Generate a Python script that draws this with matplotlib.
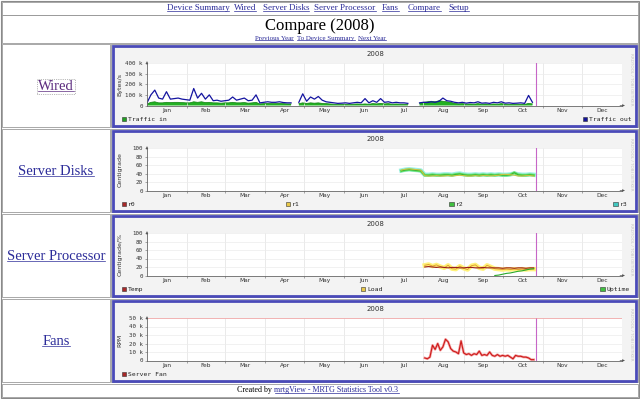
import numpy as np
import matplotlib.pyplot as plt
from matplotlib.patches import Rectangle
from matplotlib.lines import Line2D

# calendar 2008
month_names = ['Jan', 'Feb', 'Mar', 'Apr', 'May', 'Jun',
               'Jul', 'Aug', 'Sep', 'Oct', 'Nov', 'Dec']
month_len = [31, 29, 31, 30, 31, 30, 31, 31, 30, 31, 30, 31]
now_day = 300  # "now" marker, late October

nav_items = ['Device Summary', 'Wired', 'Server Disks', 'Server Processor',
             'Fans', 'Compare', 'Setup']
sub_links = ['Previous Year', 'To Device Summary', 'Next Year']
row_names = ['Wired', 'Server Disks', 'Server Processor', 'Fans']

# Wired: one sample every 3 days from Jan 1, kBytes/s
wired_start, wired_step = 0, 3
traffic_in = [15, 30, 35, 25, 25, 30, 28, 30, 30, 28,
              25, 25, 35, 30, 35, 28, 30, 25, 25, 22,
              25, 25, 30, 25, 25, 28, 22, 25, 30, 15,
              18, 20, 18, 18, 20, 18, 15, 15, np.nan, 18,
              25, 20, 25, 22, 25, 20, 18, 15, 12, 10,
              12, 12, 10, 12, 15, 12, 15, 12, 18, 15,
              20, 15, 18, 12, 15, 12, 12, 10, np.nan, np.nan,
              20, 30, 35, 40, 35, 45, 40, 35, 30, 20,
              15, 18, 12, 15, 12, 18, 12, 15, 10, 15,
              12, 18, 12, 12, 10, 12, 12, 10, 20, 15]
traffic_out = [25, 100, 145, 70, 60, 130, 60, 65, 70, 60,
               55, 50, 160, 70, 115, 60, 100, 45, 50, 40,
               45, 50, 80, 50, 60, 70, 45, 50, 100, 25,
               30, 35, 30, 30, 35, 28, 25, 25, np.nan, 30,
               110, 40, 80, 60, 85, 50, 35, 30, 25, 20,
               22, 25, 20, 25, 30, 25, 65, 25, 45, 30,
               65, 30, 35, 25, 30, 25, 25, 20, np.nan, np.nan,
               25, 30, 28, 35, 30, 40, 70, 45, 40, 30,
               25, 30, 22, 28, 25, 35, 22, 25, 20, 30,
               25, 35, 22, 25, 20, 22, 25, 20, 95, 30]

# Server Disks: every 3 days from day 196, Centigrade
disk_start, disk_step = 196, 3
disk_r1 = [48, 50, 51, 50, 49, 48,
           35, 34, 34, 35, 34, 34, 35, 34, 35, 36,
           35, 34, 34, 35, 34, 35, 35, 34, 35, 36,
           38, 38, 37, 36, 34, 34, 35, 35, 34]
disk_r2 = [46, 48, 49, 48, 47, 46,
           36, 36, 37, 36, 36, 37, 37, 36, 38, 39,
           37, 36, 36, 37, 36, 37, 36, 37, 36, 37,
           36, 36, 37, 42, 37, 36, 36, 37, 36]
disk_r3 = [47, 49, 50, 49, 48, 47,
           37, 37, 38, 37, 37, 38, 38, 37, 39, 40,
           38, 37, 37, 38, 37, 38, 37, 38, 37, 38,
           37, 37, 38, 40, 38, 37, 37, 38, 37]

# Server Processor: every 3 days from day 214
cpu_start, cpu_step = 214, 3
cpu_temp = [20, 21, 20, 19, 20, 19, 18, 19, 19, 18,
            18, 19, 19, 18, 18, 19, 18, 18, 18, 18,
            17, 18, 18, 17, 18, 18, 17, 18, 18]
cpu_load = [24, 26, 22, 25, 21, 18, 24, 16, 15, 22,
            17, 14, 23, 25, 18, 16, 24, 20, 16, 15,
            14, 15, 14, 15, 14, 15, 14, 15, 15]
cpu_uptime = [np.nan] * 18 + [0, 1, 3, 5, 6, 8, 10, 11, 13, 15, 16]

# Fans: every 2 days from day 214, k RPM
fan_start, fan_step = 214, 2
server_fan = [3, 2, 4, 18, 13, 20, 12, 16, 25, 22,
              14, 11, 10, 8, 23, 9, 7, 8, 6, 8,
              7, 11, 6, 7, 6, 10, 6, 5, 7, 5,
              6, 5, 6, 4, 2, 6, 5, 5, 4, 4,
              3, 1, 1]
fan_limit = 50

W, H = 640, 399
fig = plt.figure(figsize=(W / 100, H / 100), dpi=100)
fig.patch.set_facecolor('white')

SERIF = 'Liberation Serif'
LINK = '#2b2b99'


def fx(x):
    return x / W


def fy(y):
    return 1 - y / H


def box(x0, y0, x1, y1, z=-1, **kw):
    kw.setdefault('fill', 'fc' in kw)
    r = Rectangle((fx(x0), fy(y1)), (x1 - x0) / W, (y1 - y0) / H,
                  transform=fig.transFigure, zorder=z, **kw)
    fig.add_artist(r)
    return r


def txt(x, y, s, **kw):
    kw.setdefault('va', 'center')
    return fig.text(fx(x), fy(y), s, **kw)


links = []


def link(x, y, s, size, color=LINK, ha='center'):
    t = txt(x, y, s, fontsize=size, color=color, ha=ha, family=SERIF)
    links.append(t)
    return t


# page frame
box(1, 1, 639, 398, ec='#8a8a8a', lw=0.8)
box(2, 2, 638, 14.5, ec='#9a9a9a', lw=0.6)
box(2, 15, 638, 43, ec='#9a9a9a', lw=0.6)
box(2, 384, 638, 397, ec='#9a9a9a', lw=0.6)

nav_x = [198, 245, 286, 345, 390, 424, 459]
for x, s in zip(nav_x, nav_items):
    link(x, 8.3, s, 6.5)

txt(320, 26, 'Compare (2008)', fontsize=12, ha='center', family=SERIF)
for x, s in zip([274, 326, 372], sub_links):
    link(x, 38.3, s, 5.0)

txt(274, 390.5, 'Created by ', fontsize=5.8, ha='right', family=SERIF)
link(274.5, 390.5, 'mrtgView - MRTG Statistics Tool v0.3', 5.8, ha='left')

starts = np.cumsum([0] + month_len)[:12]
mids = starts + np.array(month_len) / 2


def chart(i, ylab, ymax, ystep, ylabels):
    T = 43 + 85 * i
    box(2, T + 1, 110, T + 84, ec='#9a9a9a', lw=0.6)
    box(111, T + 1, 638, T + 84, ec='#9a9a9a', lw=0.6)
    box(113, T + 3, 636, T + 83, fc='#f3f3f3', ec='#4a4ab8', lw=2)
    col = '#5b2a7e' if i == 0 else LINK
    t = link(56, T + 43.5, row_names[i], 10.5, color=col)
    if i == 0:
        t.set_bbox(dict(boxstyle='square,pad=0.1', fc='none', ec='#777', ls=':', lw=0.5))

    ax = fig.add_axes([fx(147), fy(T + 62.5), (622 - 147) / W, 42.5 / H])
    ax.set_facecolor('white')
    ax.set_xlim(0, 366)
    ax.set_ylim(0, ymax)
    for s in ['top', 'right']:
        ax.spines[s].set_visible(False)
    for s in ['left', 'bottom']:
        ax.spines[s].set_color('#666')
        ax.spines[s].set_linewidth(0.6)
    ax.set_xticks(mids)
    ax.set_xticklabels(month_names, fontsize=4.2, color='#333')
    ax.set_xticks(starts[1:], minor=True)
    ax.tick_params(axis='x', which='major', length=0, pad=2)
    ax.tick_params(axis='x', which='minor', length=1.5, width=0.4, color='#666')
    ax.set_yticks(np.arange(0, ymax + 1, ystep))
    ax.set_yticklabels(ylabels, fontsize=4.2, color='#333', family='DejaVu Sans Mono')
    ax.tick_params(axis='y', length=1.5, width=0.4, color='#666', pad=1.5)
    ax.grid(which='minor', axis='x', color='#e2e2e2', lw=0.5)
    ax.grid(which='major', axis='y', color='#ececec', lw=0.5)
    ax.annotate('', xy=(0, 1.1), xytext=(0, 0.95), xycoords='axes fraction',
                arrowprops=dict(arrowstyle='-|>', lw=0.5, color='#555', mutation_scale=3))
    ax.annotate('', xy=(1.012, 0), xytext=(0.99, 0), xycoords='axes fraction',
                arrowprops=dict(arrowstyle='-|>', lw=0.5, color='#555', mutation_scale=3))
    ax.axvline(now_day, color='#c766c7', lw=0.8)

    txt(375, T + 11, '2008', fontsize=5, ha='center', color='#333')
    txt(120, T + 42, ylab, fontsize=4.5, rotation=90, ha='center', color='#333')
    txt(630.5, T + 36, 'RRDTOOL / TOBI OETIKER', fontsize=3, rotation=270,
        ha='center', color='#c4c4c4')
    return ax, T


def legend_item(T, x, label, color):
    box(x, T + 73.8, x + 4.5, T + 78.3, z=2, fc=color, ec='#333', lw=0.4)
    txt(x + 6.5, T + 76.3, label, fontsize=4.6, family='DejaVu Sans Mono',
        ha='left', color='#222')


# Wired
ax, T = chart(0, 'Bytes/s', 400, 100, ['0', '100 k', '200 k', '300 k', '400 k'])
d = wired_start + wired_step * np.arange(len(traffic_in))
ax.fill_between(d, 0, traffic_in, color='#22b022', lw=0)
ax.plot(d, traffic_in, color='#128012', lw=0.5)
ax.plot(d, traffic_out, color='#1414a0', lw=0.9)
legend_item(T, 121.5, 'Traffic in', '#22a022')
legend_item(T, 582.5, 'Traffic out', '#14149a')

# Server Disks
ax, T = chart(1, 'Centigrade', 100, 20, ['0', '20', '40', '60', '80', '100'])
d = disk_start + disk_step * np.arange(len(disk_r1))
ax.plot(d, disk_r3, color='#9ff0e6', lw=3.2)
ax.plot(d, disk_r2, color='#66e066', lw=2.0)
ax.plot(d, disk_r2, color='#30b030', lw=0.6)
ax.plot(d, disk_r1, color='#d8c040', lw=0.7)
legend_item(T, 121.5, 'r0', '#a82828')
legend_item(T, 285.5, 'r1', '#e8c848')
legend_item(T, 449, 'r2', '#40c040')
legend_item(T, 613, 'r3', '#40c8c0')

# Server Processor
ax, T = chart(2, 'Centigrade/%', 100, 20, ['0', '20', '40', '60', '80', '100'])
d = cpu_start + cpu_step * np.arange(len(cpu_temp))
ax.plot(d, cpu_load, color='#fff27a', lw=3.2)
ax.plot(d, cpu_load, color='#e0a030', lw=0.7)
ax.plot(d, cpu_temp, color='#9a1c1c', lw=0.8)
ax.plot(d, cpu_uptime, color='#2aaa2a', lw=0.8)
legend_item(T, 121.5, 'Temp', '#a82828')
legend_item(T, 360.5, 'Load', '#e8c848')
legend_item(T, 600, 'Uptime', '#40c040')

# Fans
ax, T = chart(3, 'RPM', 50, 10, ['0', '10 k', '20 k', '30 k', '40 k', '50 k'])
d = fan_start + fan_step * np.arange(len(server_fan))
ax.axhline(fan_limit, color='#f29a9a', lw=0.5)
ax.plot(d, server_fan, color='#f4a0a0', lw=1.8)
ax.plot(d, server_fan, color='#cc1a1a', lw=0.8)
legend_item(T, 121.5, 'Server Fan', '#a82828')

# underline the html links
fig.canvas.draw()
for t in links:
    bb = t.get_window_extent()
    y = (bb.y0 + 0.14 * bb.height) / fig.bbox.height
    fig.add_artist(Line2D([bb.x0 / fig.bbox.width, bb.x1 / fig.bbox.width], [y, y],
                          transform=fig.transFigure, color=t.get_color(), lw=0.5))

fig.savefig('out.png', dpi=100)
